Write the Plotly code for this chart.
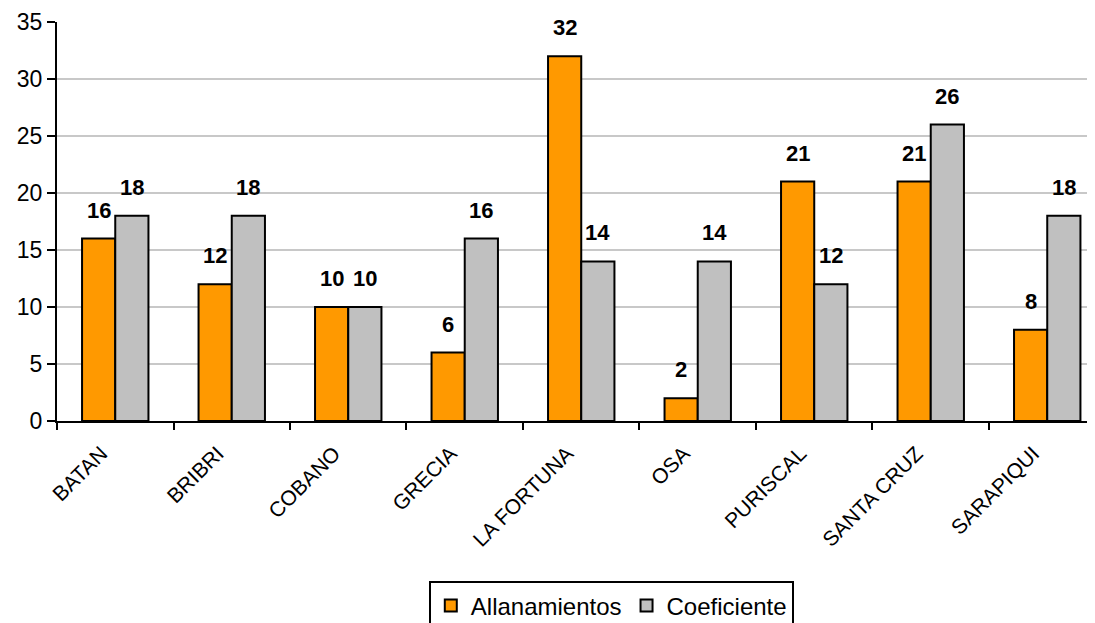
import plotly.graph_objects as go

categories = ["BATAN", "BRIBRI", "COBANO", "GRECIA", "LA FORTUNA", "OSA", "PURISCAL", "SANTA CRUZ", "SARAPIQUI"]
allanamientos = [16, 12, 10, 6, 32, 2, 21, 21, 8]
coeficiente = [18, 18, 10, 16, 14, 14, 12, 26, 18]
y_ticks = [0, 5, 10, 15, 20, 25, 30, 35]

FONT = "Liberation Sans, Arial, sans-serif"

fig = go.Figure()
fig.add_trace(go.Bar(name="Allanamientos", x=categories, y=allanamientos,
                     marker=dict(color="#FF9900", line=dict(color="black", width=2))))
fig.add_trace(go.Bar(name="Coeficiente", x=categories, y=coeficiente,
                     marker=dict(color="#C0C0C0", line=dict(color="black", width=2))))

annotations = []
for i, c in enumerate(categories):
    for vals, dx in ((allanamientos, -16.5), (coeficiente, 16.5)):
        annotations.append(dict(x=c, y=vals[i], text=f"<b>{vals[i]}</b>", showarrow=False,
                                xshift=dx, yshift=14, yanchor="bottom",
                                font=dict(family=FONT, size=22, color="black")))

fig.update_layout(
    width=1087, height=660,
    margin=dict(l=49, r=0, t=14, b=247),
    plot_bgcolor="white", paper_bgcolor="white",
    barmode="group", bargap=0.43, bargroupgap=0,
    font=dict(family=FONT, color="black"),
    annotations=annotations,
    legend=dict(orientation="h", x=0.534, xanchor="center", y=-0.402, yanchor="top",
                bgcolor="white", bordercolor="black", borderwidth=2,
                font=dict(family=FONT, size=24, color="black"), traceorder="normal",
                itemwidth=30),
    showlegend=True,
)
fig.update_xaxes(range=[-0.5, 8.41], showline=True, linecolor="black", linewidth=2,
                 ticks="outside", tickson="boundaries", ticklen=7, tickwidth=2, tickcolor="black",
                 tickangle=-45, tickfont=dict(family=FONT, size=21, color="black"), showgrid=False,
                 ticklabelstandoff=10, ticklabelshift=-14)
fig.update_yaxes(range=[0, 35], tickvals=y_ticks, showline=True, linecolor="black", linewidth=2,
                 ticks="outside", ticklen=8, tickwidth=2, tickcolor="black",
                 tickfont=dict(family=FONT, size=23, color="black"),
                 showgrid=True, gridcolor="#C8C8C8", gridwidth=2, zeroline=False)

fig.write_html("out.html")
